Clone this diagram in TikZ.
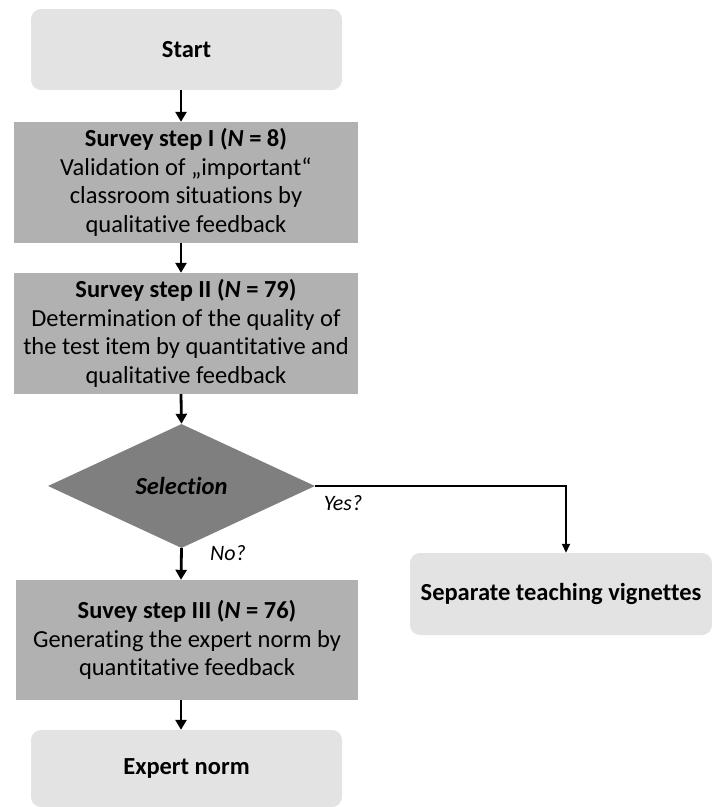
\documentclass[tikz,border=0pt]{standalone}
\usepackage{fontspec}
\setmainfont{Carlito}[RawFeature=-liga]
\usetikzlibrary{shapes.geometric,arrows.meta}
\definecolor{lightbox}{HTML}{E3E3E3}
\definecolor{midbox}{HTML}{B1B1B1}
\definecolor{darkbox}{HTML}{7F7F7F}
\begin{document}
\begin{tikzpicture}[x=1pt,y=-1pt,
  txt/.style={font=\fontsize{24.5}{28.5}\selectfont, align=center, text=black},
  roundbox/.style={txt, fill=lightbox, rounded corners=10pt, inner sep=0pt},
  stepbox/.style={txt, fill=midbox, inner sep=0pt, minimum width=344pt, minimum height=121pt},
  decision/.style={txt, diamond, fill=darkbox, inner sep=0pt, minimum width=267pt, minimum height=124pt},
  arr/.style={line width=2.8pt, -{Triangle[length=10pt,width=11pt]}},
  thinarr/.style={line width=1.5pt, -{Triangle[length=9pt,width=8pt]}},
  lbl/.style={font=\fontsize{22}{26}\selectfont\itshape}]
\useasboundingbox (0,0) rectangle (712,807);
\node[roundbox, minimum width=311pt, minimum height=81pt] (start) at (186.5,49.5) {\textbf{Start}};
\node[stepbox] (s1) at (186,182.5) {\textbf{Survey step I (\textit{N} = 8)}\\Validation of „important“\\classroom situations by\\qualitative feedback};
\node[stepbox] (s2) at (186,333.5) {\textbf{Survey step II (\textit{N} = 79)}\\Determination of the quality of\\the test item by quantitative and\\qualitative feedback};
\node[decision] (dia) at (181.5,486) {\textbf{\textit{Selection}}};
\node[stepbox, minimum width=342pt, minimum height=120pt] (s3) at (187,640) {\textbf{Suvey step III (\textit{N} = 76)}\\Generating the expert norm by\\quantitative feedback};
\node[roundbox, minimum width=311pt, minimum height=77pt] (exp) at (186.5,768.5) {\textbf{Expert norm}};
\node[roundbox, minimum width=302pt, minimum height=82pt] (sep) at (561,594) {\textbf{Separate teaching vignettes}};
\coordinate (ax) at (181,0);
\coordinate (yx) at (566,0);
\draw[arr] (start.south -| ax) -- (s1.north -| ax);
\draw[arr] (s1.south -| ax) -- (s2.north -| ax);
\draw[arr] (s2.south -| ax) -- (dia.north);
\draw[arr] (dia.south) -- (s3.north -| ax);
\draw[arr] (s3.south -| ax) -- (exp.north -| ax);
\draw[thinarr] (dia.east) -- (dia.east -| yx) -- (sep.north -| yx);
\node[lbl] (yes) at (343,503) {Yes?};
\node[lbl] (no) at (228,553) {No?};
\end{tikzpicture}
\end{document}
